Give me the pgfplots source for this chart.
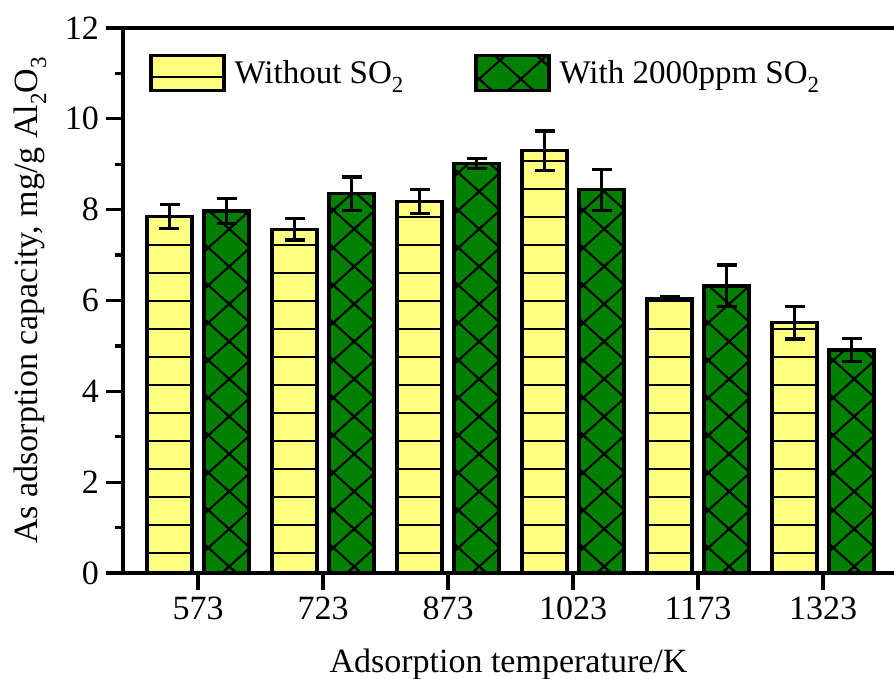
\documentclass[border=0pt]{standalone}
\usepackage{fontspec}
\setmainfont{Liberation Serif}
\usepackage{pgfplots}
\pgfplotsset{compat=1.18}
\usetikzlibrary{patterns}
\definecolor{yfill}{RGB}{255,255,128}
\definecolor{gfill}{RGB}{0,128,0}
\newcommand{\sub}[1]{\raisebox{-4.5pt}{\fontsize{11.5}{12}\selectfont #1}}
% horizontal lines, period 14pt
\pgfdeclarepatternformonly{hlinesY}{\pgfqpoint{-1pt}{-1pt}}{\pgfqpoint{11pt}{15pt}}{\pgfqpoint{10pt}{14pt}}{%
  \pgfsetlinewidth{1pt}%
  \pgfpathmoveto{\pgfqpoint{-1pt}{7pt}}%
  \pgfpathlineto{\pgfqpoint{11pt}{7pt}}%
  \pgfusepath{stroke}}
% diamond cross-hatch, w=20.833pt, h=18.75pt
\pgfdeclarepatternformonly{diamondX}{\pgfqpoint{-2pt}{-2pt}}{\pgfqpoint{22.833pt}{20.75pt}}{\pgfqpoint{20.833pt}{18.75pt}}{%
  \pgfsetlinewidth{1pt}%
  \pgfpathmoveto{\pgfqpoint{8.2pt}{-2pt}}\pgfpathlineto{\pgfqpoint{22.833pt}{11.175pt}}%
  \pgfpathmoveto{\pgfqpoint{-2pt}{7.575pt}}\pgfpathlineto{\pgfqpoint{12.633pt}{20.75pt}}%
  \pgfpathmoveto{\pgfqpoint{-2pt}{11.175pt}}\pgfpathlineto{\pgfqpoint{12.633pt}{-2pt}}%
  \pgfpathmoveto{\pgfqpoint{8.2pt}{20.75pt}}\pgfpathlineto{\pgfqpoint{22.833pt}{7.575pt}}%
  \pgfusepath{stroke}}
\pgfplotsset{bigbox legend/.style={legend image code/.code={\draw[##1] (0pt,-8.75pt) rectangle (36.5pt,8.75pt);}}}
\begin{document}
\begin{tikzpicture}
\begin{axis}[
  scale only axis, width=385.5pt, height=272.5pt,
  at={(0pt,0pt)}, anchor=south west,
  xmin=-0.6, xmax=5.568, ymin=0, ymax=12,
  axis x line*=box, axis y line*=left,
  axis line style={line width=1.6pt, black},
  xtick={0,1,2,3,4,5},
  xticklabels={573,723,873,1023,1173,1323},
  ytick={0,2,4,6,8,10,12},
  minor y tick num=1,
  tick pos=left,
  tick align=outside,
  major tick length=8.5pt, minor tick length=4pt,
  tick style={line width=1.6pt, black},
  minor tick style={line width=1.6pt, black},
  font=\fontsize{17}{20}\selectfont,
  tick label style={font=\fontsize{17}{20}\selectfont},
  /pgf/number format/assume math mode=true,
  xlabel={Adsorption temperature/K},
  ylabel={As adsorption capacity, mg/g Al\sub{2}O\sub{3}},
  every axis x label/.style={at={(axis description cs:0.5,-0.1817)}, anchor=base},
  every axis y label/.style={at={(axis description cs:-0.1206,0.5)}, rotate=90, anchor=center},
  legend style={draw=none, fill=none, at={(axis description cs:0.026,0.96)}, anchor=north west,
    font=\fontsize{16.5}{20}\selectfont,
    nodes={inner xsep=4.5pt},
    /tikz/every even column/.append style={column sep=31pt}},
  legend columns=2,
  legend cell align=left,
]
\addplot[ybar, bar width=0.36, bar shift=0, draw=black, line width=1.6pt, fill=yfill,
  postaction={pattern=hlinesY}, bigbox legend,
  error bars/.cd, y dir=both, y explicit,
  error bar style={line width=1.6pt, black},
  error mark options={rotate=90, mark size=5pt, line width=1.6pt, black}]
  coordinates {
  (-0.228,7.85) +- (0,0.26)
  (0.772,7.57) +- (0,0.24)
  (1.772,8.18) +- (0,0.27)
  (2.772,9.30) +- (0,0.43)
  (3.772,6.04) +- (0,0.04)
  (4.772,5.51) +- (0,0.36)
};
\addlegendentry{Without SO\sub{2}}
\addplot[ybar, bar width=0.36, bar shift=0, draw=black, line width=1.6pt, fill=gfill,
  postaction={pattern=diamondX}, bigbox legend,
  error bars/.cd, y dir=both, y explicit,
  error bar style={line width=1.6pt, black},
  error mark options={rotate=90, mark size=5pt, line width=1.6pt, black}]
  coordinates {
  (0.228,7.97) +- (0,0.27)
  (1.228,8.35) +- (0,0.37)
  (2.228,9.02) +- (0,0.11)
  (3.228,8.44) +- (0,0.45)
  (4.228,6.32) +- (0,0.46)
  (5.228,4.91) +- (0,0.26)
};
\addlegendentry{With 2000ppm SO\sub{2}}
\end{axis}
\pgfresetboundingbox
\path[use as bounding box] (-61.5pt,-53pt) rectangle (385.5pt,286.5pt);
\end{tikzpicture}
\end{document}
